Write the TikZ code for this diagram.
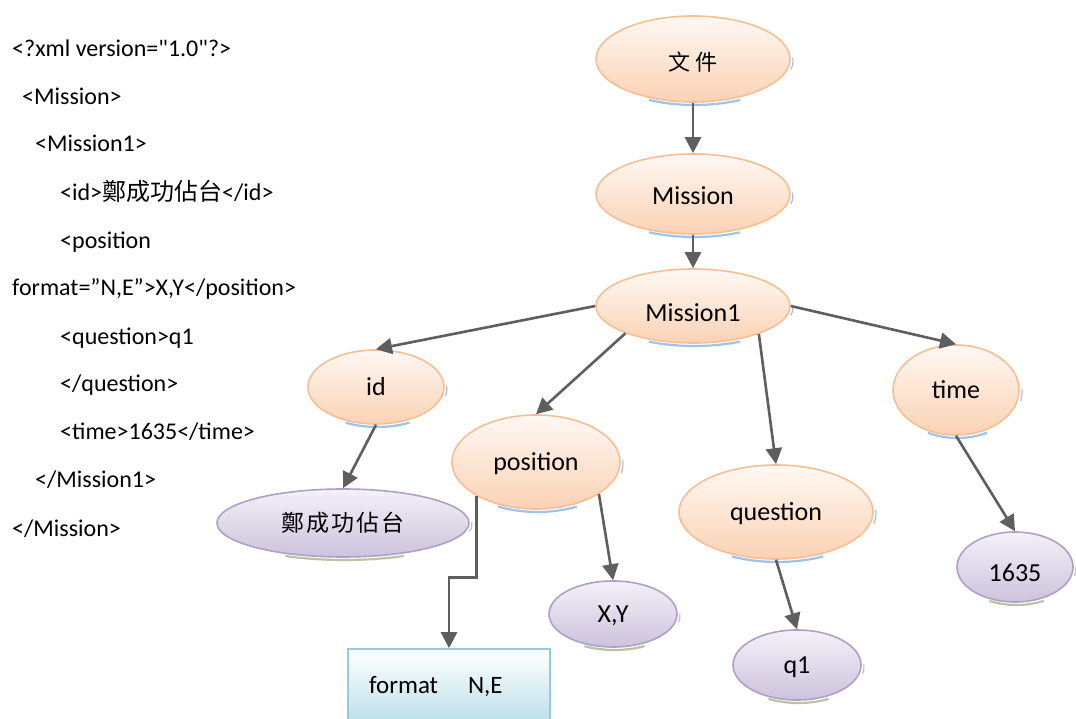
\documentclass[tikz,border=0pt]{standalone}
\usepackage{fontspec}
\setmainfont{Carlito}[Ligatures=TeXOff]
\newfontfamily\cjk{Noto Sans CJK TC}
\usetikzlibrary{shapes.geometric,arrows.meta,calc,backgrounds}

\definecolor{orline}{HTML}{F8BE92}
\definecolor{ortop}{HTML}{FFF8F3}
\definecolor{orbot}{HTML}{FAD2B4}
\definecolor{puline}{HTML}{B09FC6}
\definecolor{putop}{HTML}{F4F1F8}
\definecolor{pubot}{HTML}{CDC2DC}
\definecolor{bxline}{HTML}{93CDDD}
\definecolor{bxbot}{HTML}{B9DFE9}
\definecolor{arrgray}{HTML}{5E5E5E}
\definecolor{shblue}{HTML}{9CC2EE}
\definecolor{shgreen}{HTML}{B9C4A6}

\begin{document}
\begin{tikzpicture}[x=1pt,y=1pt,
  ovbase/.style={ellipse, line width=1.6pt, inner sep=0pt,
    font=\fontsize{26}{30}\selectfont, text height=17pt, text depth=0.5pt},
  orell/.style={ovbase, draw=orline, top color=ortop, bottom color=orbot},
  puell/.style={ovbase, draw=puline, top color=putop, bottom color=pubot},
  attrbox/.style={rectangle, draw=bxline, line width=1.6pt, top color=white,
    bottom color=bxbot, inner xsep=21pt, text width=160pt, minimum height=76pt,
    align=left, font=\fontsize{25}{28}\selectfont},
  xmlline/.style={anchor=base west, inner sep=0pt, font=\fontsize{24}{28}\selectfont},
  arr/.style={draw=arrgray, line width=2.6pt, -{Triangle[length=16pt,width=16pt]}}
]
\useasboundingbox (0,0) rectangle (1076,718);

% XML source listing
\node[xmlline] (l1)  at (12,661)  {<?xml version="1.0"?>};
\node[xmlline] (l2)  at (22,613)  {<Mission>};
\node[xmlline] (l3)  at (35,566)  {<Mission1>};
\node[xmlline] (l4)  at (60,517)  {<id>{\cjk 鄭成功佔台}</id>};
\node[xmlline] (l5)  at (60,469)  {<position};
\node[xmlline] (l6)  at (12,422)  {format=”N,E”>X,Y</position>};
\node[xmlline] (l7)  at (60,373)  {<question>q1};
\node[xmlline] (l8)  at (60,326)  {</question>};
\node[xmlline] (l9)  at (60,278)  {<time>1635</time>};
\node[xmlline] (l10) at (35,230)  {</Mission1>};
\node[xmlline] (l11) at (12,182)  {</Mission>};

% tree nodes
\node[orell, minimum width=194pt, minimum height=86pt, text height=23pt] (doc) at (693,659)
  {\cjk\fontsize{22}{26}\selectfont 文\hspace{6pt}件};
\node[orell, minimum width=194pt, minimum height=80pt, text height=21pt] (mission) at (693,524) {Mission};
\node[orell, minimum width=194pt, minimum height=74pt, text height=31pt] (mission1) at (693,412) {Mission1};
\node[orell, minimum width=136pt, minimum height=74pt] (id) at (376,331) {id};
\node[orell, minimum width=168pt, minimum height=94pt] (position) at (536,256) {position};
\node[orell, minimum width=194pt, minimum height=94pt] (question) at (776,206) {question};
\node[orell, minimum width=126pt, minimum height=90pt] (time) at (956,328) {time};
\node[puell, minimum width=252pt, minimum height=68pt] (zheng) at (343,195)
  {\cjk\fontsize{23}{26}\selectfont 鄭\hspace{2pt}成\hspace{2pt}功\hspace{2pt}佔\hspace{2pt}台};
\node[puell, minimum width=128pt, minimum height=66pt] (xy) at (613,104) {X,Y};
\node[puell, minimum width=128pt, minimum height=70pt] (q1) at (797,53) {q1};
\node[puell, minimum width=116pt, minimum height=70pt, text height=29pt] (n1635) at (1015,151) {1635};
\node[attrbox] (fmt) at (449,31) {format\hspace{30pt}N,E};

% soft under-edges of the ovals
\begin{pgfonlayer}{background}
  \fill[white] (0,0) rectangle (1076,718);
  \foreach \n/\rx/\ry/\c in {doc/97/43/shblue, mission/97/40/shblue,
      mission1/97/37/shblue, id/68/37/shblue, position/84/47/shblue,
      question/97/47/shblue, time/63/45/shblue, zheng/126/34/shgreen,
      xy/64/33/shgreen, q1/64/35/shgreen, n1635/58/35/shgreen}{
    \draw[\c, line width=2.2pt]
      ($(\n.center)+(1.5,-3)+(242:\rx pt and \ry pt)$)
      arc[start angle=242, end angle=298, x radius=\rx pt, y radius=\ry pt];
    \draw[\c, line width=1.2pt]
      ($(\n.center)+(3,-1.5)+(-12:\rx pt and \ry pt)$)
      arc[start angle=-12, end angle=4, x radius=\rx pt, y radius=\ry pt];
  }
\end{pgfonlayer}

% connectors
\draw[arr] (doc.south) -- (mission.north);
\draw[arr] (mission.south) -- (mission1.north);
\draw[arr] (mission1.west) -- (id.north);
\draw[arr] (mission1.202) -- (position.north);
\draw[arr] (mission1.337) -- (question.north);
\draw[arr] (mission1.east) -- (time.north);
\draw[arr] (id.south) -- (zheng.north);
\draw[arr] (position.333) -- (xy.north);
\draw[arr] (position.210) -- ++(0,-81) -| (fmt.north);
\draw[arr] (question.south) -- (q1.north);
\draw[arr] (time.south) -- (n1635.north);
\end{tikzpicture}
\end{document}
